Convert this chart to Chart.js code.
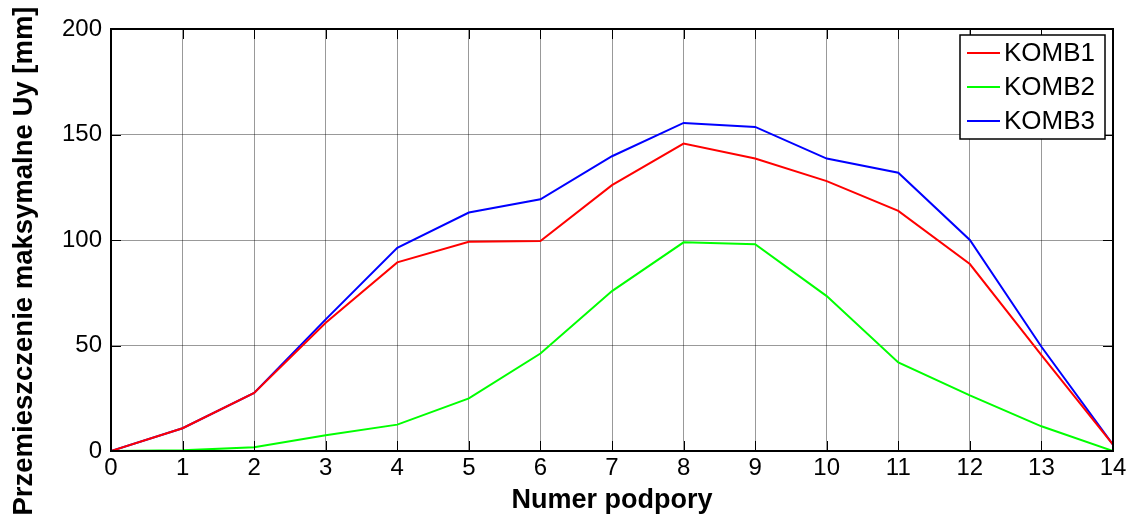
<!DOCTYPE html>
<html>
<head>
<meta charset="utf-8">
<script src="https://cdn.jsdelivr.net/npm/chart.js@4"></script>
<style>
  html, body { margin: 0; padding: 0; background: #fff; }
  #wrap { width: 1134px; height: 517px; }
</style>
</head>
<body>
<div id="wrap"><canvas id="chart" width="1134" height="517"></canvas></div>
<script>
// supports (x axis)
const supports = [0, 1, 2, 3, 4, 5, 6, 7, 8, 9, 10, 11, 12, 13, 14];

// max displacement Uy [mm]
const komb1 = [0, 10.8, 27.5, 60.8, 89.4, 99.2, 99.5, 126, 145.7, 138.6, 127.9, 113.8, 88.6, 45.4, 3];
const komb2 = [0, 0.3, 1.8, 7.5, 12.5, 24.9, 46.2, 75.8, 98.9, 98, 73.4, 42, 26.4, 11.7, 0];
const komb3 = [0, 10.8, 27.5, 62.4, 96.3, 113, 119.3, 139.7, 155.5, 153.6, 138.6, 131.9, 100, 49.4, 3];

const seriesNames = ["KOMB1", "KOMB2", "KOMB3"];
const yTicks = [0, 50, 100, 150, 200];
const yTitle = 'Przemieszczenie maksymalne Uy [mm]';

const FONT = "'Liberation Sans', Arial, sans-serif";

function pts(vals) {
    return supports.map(function (x, i) { return { x: x, y: vals[i] }; });
}

// box, inward ticks, y label and legend like the matlab figure
const frame = {
    id: 'frame',
    afterDraw: function (chart) {
        const ctx = chart.ctx;
        const a = chart.chartArea;
        const xs = chart.scales.x, ys = chart.scales.y;
        const tl = 10;
        ctx.save();
        ctx.strokeStyle = '#000';
        ctx.lineWidth = 1;
        ctx.beginPath();
        supports.forEach(function (v) {
            const px = Math.round(xs.getPixelForValue(v)) + 0.5;
            ctx.moveTo(px, a.bottom); ctx.lineTo(px, a.bottom - tl);
            ctx.moveTo(px, a.top); ctx.lineTo(px, a.top + tl);
        });
        yTicks.forEach(function (v) {
            const py = Math.round(ys.getPixelForValue(v)) + 0.5;
            ctx.moveTo(a.left, py); ctx.lineTo(a.left + tl, py);
            ctx.moveTo(a.right, py); ctx.lineTo(a.right - tl, py);
        });
        ctx.stroke();
        ctx.lineWidth = 2;
        ctx.strokeRect(a.left, a.top, a.right - a.left, a.bottom - a.top);

        // y axis title (sits a bit below the axis centre in the original)
        ctx.save();
        ctx.translate(22, 261);
        ctx.rotate(-Math.PI / 2);
        ctx.fillStyle = '#000';
        ctx.font = 'bold 27.5px ' + FONT;
        ctx.textAlign = 'center';
        ctx.textBaseline = 'middle';
        ctx.fillText(yTitle, 0, 2);
        ctx.restore();

        // legend
        const lx = 960, ly = 35, lw = 145, lh = 104;
        ctx.fillStyle = '#fff';
        ctx.fillRect(lx, ly, lw, lh);
        ctx.lineWidth = 1.5;
        ctx.strokeRect(lx, ly, lw, lh);
        ctx.font = '26px ' + FONT;
        ctx.textBaseline = 'middle';
        chart.data.datasets.forEach(function (ds, i) {
            const cy = ly + 18 + i * 34;
            ctx.strokeStyle = ds.borderColor;
            ctx.lineWidth = 2;
            ctx.beginPath();
            ctx.moveTo(967, cy); ctx.lineTo(1000, cy);
            ctx.stroke();
            ctx.fillStyle = '#000';
            ctx.fillText(ds.label, 1004, cy + 1);
        });
        ctx.restore();
    }
};

const ctx1 = document.getElementById('chart').getContext('2d');
const myChart = new Chart(ctx1, {
    type: 'line',
    data: {
        datasets: [
            { label: seriesNames[0], data: pts(komb1), borderColor: '#ff0000', borderWidth: 2 },
            { label: seriesNames[1], data: pts(komb2), borderColor: '#00ff00', borderWidth: 2 },
            { label: seriesNames[2], data: pts(komb3), borderColor: '#0000ff', borderWidth: 2 }
        ]
    },
    options: {
        responsive: false,
        animation: false,
        layout: { padding: { top: 29, right: 21, left: 0, bottom: 0 } },
        elements: { point: { radius: 0 }, line: { tension: 0 } },
        plugins: { legend: { display: false }, tooltip: { enabled: false } },
        scales: {
            x: {
                type: 'linear',
                min: 0, max: 14,
                afterFit: function (s) { s.height = 66; },
                ticks: { stepSize: 1, padding: 3, color: '#000', font: { family: FONT, size: 24 } },
                grid: { color: 'rgba(0,0,0,0.4)', drawTicks: false },
                border: { display: false },
                title: {
                    display: true, text: 'Numer podpory', color: '#000',
                    font: { family: FONT, size: 27, weight: 'bold' },
                    padding: { top: 0, bottom: 0 }
                }
            },
            y: {
                min: 0, max: 200,
                afterFit: function (s) { s.width = 111; },
                ticks: { stepSize: 50, padding: 9, color: '#000', font: { family: FONT, size: 24 } },
                grid: { color: 'rgba(0,0,0,0.4)', drawTicks: false },
                border: { display: false }
            }
        }
    },
    plugins: [frame]
});
</script>
</body>
</html>
